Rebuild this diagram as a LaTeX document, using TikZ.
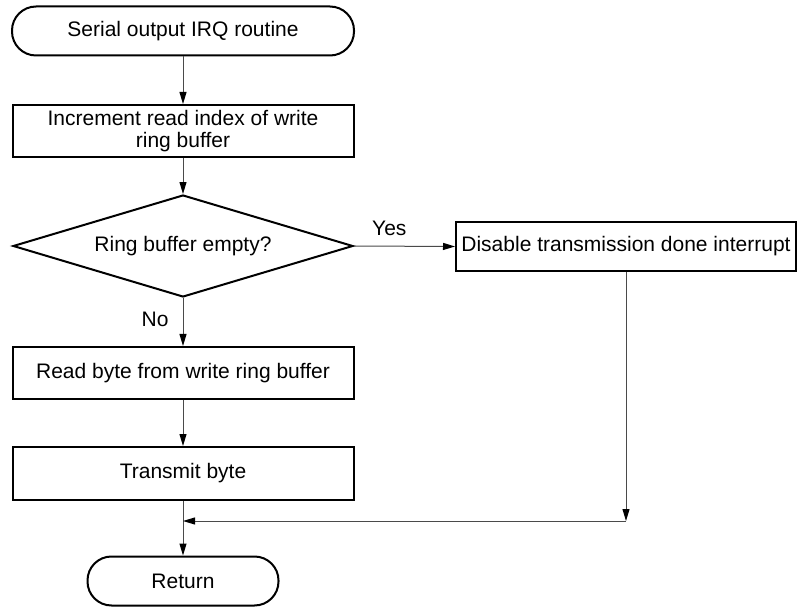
\documentclass[tikz,border=0pt]{standalone}
\usepackage{fontspec}
\setmainfont{Liberation Sans}
\usetikzlibrary{calc,positioning,shapes.geometric,arrows.meta}
\definecolor{color_line_default}{HTML}{4a4a4a}

\tikzset{
	terminal/.style={draw,line width=2pt,rounded corners=24pt,minimum height=49pt,inner sep=0},
	stepbox/.style={draw,line width=2pt,minimum width=341pt,minimum height=52pt,inner xsep=3pt,inner ysep=0,align=center},
	decision/.style={draw,line width=2pt,diamond,aspect=3.33,minimum width=340pt,minimum height=102pt,inner sep=0},
	flow/.style={color_line_default,line width=1pt,-{Triangle[length=12pt,width=7pt,color=black]}},
	lbl/.style={inner sep=0,text=black}
}

\begin{document}
\begin{tikzpicture}[scale=1,black,x=1pt,y=1pt,font=\fontsize{21}{25}\selectfont]
				\useasboundingbox (0, 0) rectangle (798, 606);
				% Points
				\coordinate (MID) at (183, 0);
				\coordinate (RH) at (626, 0);
		
				% Boxes
				\node[terminal,minimum width=342pt] (start) at ($(MID) + (0, 575)$) {Serial output IRQ routine};
				\node[stepbox] (incr) at ($(MID) + (0, 475)$) {Increment read index of write\\[-3pt]ring buffer};
				\node[decision] (empty) at ($(MID) + (0, 360)$) {Ring buffer empty?};
				\node[stepbox,minimum width=340pt,minimum height=49pt] (disable) at ($(RH) + (0, 359.5)$) {Disable transmission done interrupt};
				\node[stepbox] (readbyte) at ($(MID) + (0, 233)$) {Read byte from write ring buffer};
				\node[stepbox,minimum height=53pt] (transmit) at ($(MID) + (0, 132.5)$) {Transmit byte};
				\node[terminal,minimum width=191pt] (ret) at ($(MID) + (0, 25)$) {Return};
		
				\coordinate (corner) at ($(RH) + (0, 85)$);
				\coordinate (join) at ($(MID) + (0, 85)$);
				
				% Connectors
				\draw[flow] (start) -- (incr);
				\draw[flow] (incr) -- (empty);
				\draw[flow] (empty.south) -- (readbyte) node[lbl,pos=0.45,left=14pt] {No};
				\draw[flow] (empty.east) -- (disable.west) node[lbl,pos=0.35,above=10pt] {Yes};
				\draw[flow] (readbyte) -- (transmit);
				\draw[flow] (transmit) -- (ret);
				\draw[flow] (disable) -- (corner);
				\draw[flow] (corner) -- (join)
				;
			\end{tikzpicture}
\end{document}
